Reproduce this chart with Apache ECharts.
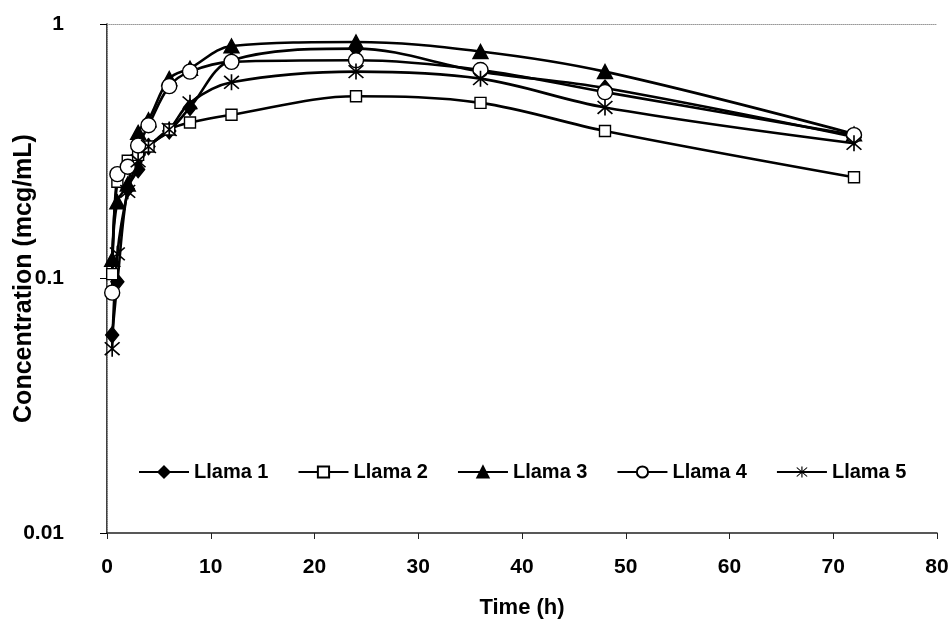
<!DOCTYPE html>
<html>
<head>
<meta charset="utf-8">
<title>Concentration vs Time</title>
<script src="https://cdn.jsdelivr.net/npm/echarts@6/dist/echarts.min.js"></script>
<style>
  html, body { margin: 0; padding: 0; background: #fff; }
  #chart { width: 950px; height: 632px; }
</style>
</head>
<body>
<div id="chart"></div>
<script>
// Sampling times (h)
const hours = [0.5, 1, 2, 3, 4, 6, 8, 12, 24, 36, 48, 72];

// Plasma concentration (mcg/mL) per animal
const llama1 = [0.060, 0.097, 0.225, 0.268, 0.330, 0.380, 0.470, 0.720, 0.800, 0.650, 0.560, 0.360];
const llama2 = [0.104, 0.240, 0.290, 0.306, 0.330, 0.385, 0.410, 0.440, 0.520, 0.490, 0.380, 0.250];
const llama3 = [0.119, 0.200, 0.235, 0.375, 0.420, 0.610, 0.670, 0.820, 0.850, 0.780, 0.650, 0.370];
const llama4 = [0.088, 0.257, 0.275, 0.333, 0.400, 0.570, 0.650, 0.710, 0.720, 0.660, 0.540, 0.366];
const llama5 = [0.053, 0.125, 0.220, 0.290, 0.330, 0.385, 0.490, 0.590, 0.650, 0.610, 0.470, 0.340];

const seriesNames = ['Llama 1', 'Llama 2', 'Llama 3', 'Llama 4', 'Llama 5'];
const seriesValues = [llama1, llama2, llama3, llama4, llama5];

// Asterisk marker: vertical bar plus two diagonals
const asterisk = 'path://M9.1 0 L10.9 0 L10.9 20 L9.1 20 Z ' +
  'M1.3 2.6 L2.6 1.3 L18.7 17.4 L17.4 18.7 Z ' +
  'M17.4 1.3 L18.7 2.6 L2.6 18.7 L1.3 17.4 Z';

const markerStyles = [
  { symbol: 'diamond', symbolSize: [13, 16], fill: '#000' },
  { symbol: 'rect', symbolSize: 11, fill: '#fff' },
  { symbol: 'triangle', symbolSize: [15, 14], fill: '#000' },
  { symbol: 'circle', symbolSize: 15, fill: '#fff' },
  { symbol: asterisk, symbolSize: 16, fill: '#000' }
];

const FONT = '"Liberation Sans", Arial, sans-serif';

const series = seriesNames.map((name, i) => ({
  name: name,
  type: 'line',
  smooth: 0.35,
  data: hours.map((h, j) => [h, seriesValues[i][j]]),
  symbol: markerStyles[i].symbol,
  symbolSize: markerStyles[i].symbolSize,
  showAllSymbol: true,
  lineStyle: { color: '#000', width: 2.6 },
  itemStyle: { color: markerStyles[i].fill, borderColor: '#000', borderWidth: i === 4 ? 0 : 1.4 },
  emphasis: { disabled: true },
  xAxisIndex: 0,
  yAxisIndex: 0
}));

const chart = echarts.init(document.getElementById('chart'), null, { renderer: 'canvas' });

chart.setOption({
  animation: false,
  backgroundColor: '#fff',
  textStyle: { fontFamily: FONT, color: '#000' },
  grid: { left: 107, right: 13, top: 24, bottom: 99, containLabel: false, outerBoundsMode: 'none' },
  legend: {
    data: seriesNames,
    left: 133,
    top: 457,
    itemWidth: 50,
    itemHeight: 14,
    itemGap: 29,
    textStyle: { fontFamily: FONT, fontSize: 20, fontWeight: 'bold', color: '#000' }
  },
  xAxis: [
    {
      type: 'value',
      min: 0,
      max: 80,
      interval: 10,
      name: 'Time (h)',
      nameLocation: 'middle',
      nameGap: 64,
      nameMoveOverlap: false,
      nameTextStyle: { fontFamily: FONT, fontSize: 22, fontWeight: 'bold', color: '#000' },
      axisLine: { lineStyle: { color: '#222', width: 1.5 } },
      axisTick: { show: true, length: 6, lineStyle: { color: '#222' } },
      axisLabel: { fontFamily: FONT, fontSize: 21, fontWeight: 'bold', color: '#000', margin: 24 },
      splitLine: { show: false }
    },
    {
      type: 'value',
      position: 'top',
      min: 0,
      max: 80,
      interval: 10,
      axisLine: { show: true, lineStyle: { color: '#999', width: 1, type: 'dotted' } },
      axisTick: { show: false },
      axisLabel: { show: false },
      splitLine: { show: false }
    }
  ],
  yAxis: [
    {
      type: 'log',
      logBase: 10,
      min: 0.01,
      max: 1,
      name: 'Concentration (mcg/mL)',
      nameLocation: 'middle',
      nameGap: 70,
      nameMoveOverlap: false,
      nameTextStyle: { fontFamily: FONT, fontSize: 25, fontWeight: 'bold', color: '#000' },
      axisLine: { show: true, lineStyle: { color: '#000', width: 1.5 } },
      axisTick: { show: true, length: 7, lineStyle: { color: '#000' } },
      axisLabel: {
        fontFamily: FONT, fontSize: 21, fontWeight: 'bold', color: '#000', margin: 43,
        formatter: function (v) {
          if (Math.abs(v - 1) < 1e-9) return '1';
          if (Math.abs(v - 0.1) < 1e-9) return '0.1';
          if (Math.abs(v - 0.01) < 1e-9) return '0.01';
          return '';
        }
      },
      splitLine: { show: false }
    },
    {
      type: 'log',
      logBase: 10,
      position: 'right',
      min: 0.01,
      max: 1,
      axisLine: { show: true, lineStyle: { color: '#999', width: 1, type: 'dotted' } },
      axisTick: { show: false },
      axisLabel: { show: false },
      splitLine: { show: false }
    }
  ],
  series: series
});
</script>
</body>
</html>
